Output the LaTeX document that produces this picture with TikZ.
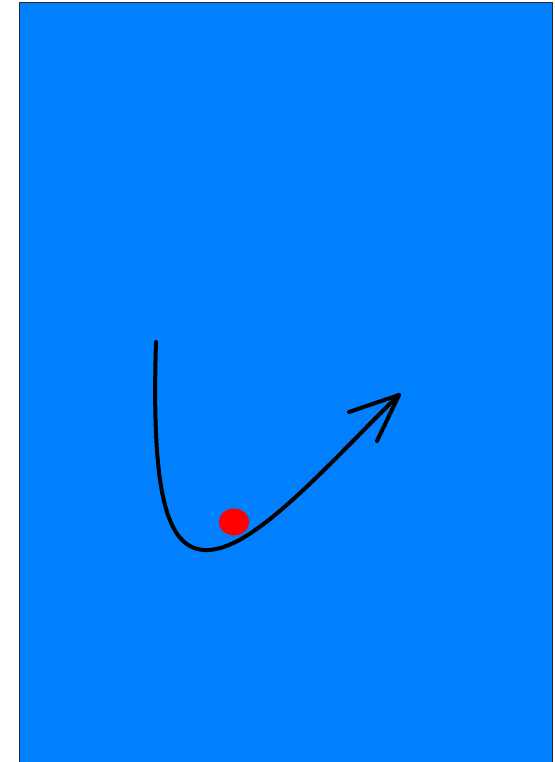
\documentclass[tikz,border=0pt]{standalone}
\definecolor{sky}{RGB}{0,128,255}
\definecolor{ball}{RGB}{255,0,0}
\definecolor{frame}{RGB}{40,40,40}
\usetikzlibrary{calc,shapes.geometric}

\begin{document}
\begin{tikzpicture}[
  x=1pt,y=-1pt,
  panel/.style={draw=frame,fill=sky,line width=1.5pt},
  stroke/.style={draw=black,line width=4pt,line cap=round,line join=round},
  dot/.style={ellipse,fill=ball,minimum width=30pt,minimum height=27pt,inner sep=0pt}
]
  \useasboundingbox (0,0) rectangle (554,762);
  \path[panel] (19.5,2.5) rectangle (552.5,770);
  \coordinate (start) at (156,342);
  \coordinate (low)   at (210,550);
  \coordinate (tip)   at (399,395);
  \coordinate (barbA) at (349,412);
  \coordinate (barbB) at (377,441);
  \draw[stroke] (start) .. controls (151,500) and (168,553) .. (low)
    .. controls (258,546) and (330,462) .. (tip);
  \draw[stroke] (barbA) -- (tip) -- (barbB);
  \node[dot] (ball) at (234,522) {};
\end{tikzpicture}
\end{document}
